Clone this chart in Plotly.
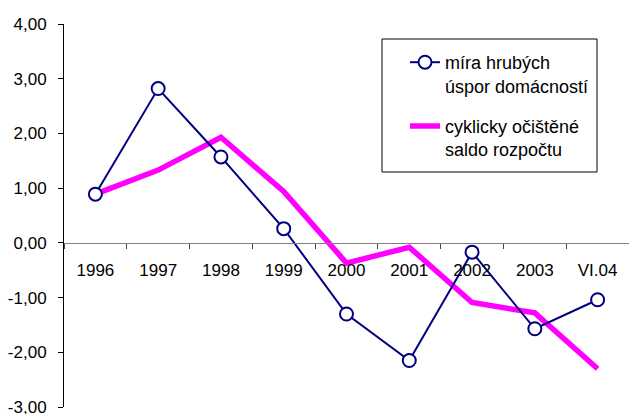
import plotly.graph_objects as go

categories = ["1996", "1997", "1998", "1999", "2000", "2001", "2002", "2003", "VI.04"]
savings_rate = [0.89, 2.82, 1.57, 0.26, -1.30, -2.15, -0.17, -1.57, -1.04]
cyclical_balance = [0.89, 1.33, 1.93, 0.94, -0.37, -0.08, -1.09, -1.28, -2.30]
y_tick_values = [-3, -2, -1, 0, 1, 2, 3, 4]
y_tick_labels = ["-3,00", "-2,00", "-1,00", "0,00", "1,00", "2,00", "3,00", "4,00"]
name_savings = "míra hrubých<br>úspor domácností"
name_balance = "cyklicky očištěné<br>saldo rozpočtu"

# plot area in pixels: x 64..629, y 24..407
PL, PR, PT, PB = 64, 629, 24, 407
def px(x):
    return (x - PL) / (PR - PL)
def py(y):
    return 1 - (y - PT) / (PB - PT)

fig = go.Figure()
fig.add_trace(go.Scatter(
    x=categories, y=cyclical_balance, mode="lines", name=name_balance,
    line=dict(color="#FF00FF", width=5.5), legendrank=2, legendgroup="b",
))
fig.add_trace(go.Scatter(
    x=categories, y=savings_rate, mode="lines+markers", name=name_savings,
    line=dict(color="#000080", width=2),
    marker=dict(symbol="circle", size=13, color="white",
                line=dict(color="#000080", width=2)),
    legendrank=1, legendgroup="a",
))

# legend frame
fig.add_shape(type="rect", xref="paper", yref="paper",
              x0=px(382), x1=px(597), y0=py(172), y1=py(39),
              line=dict(color="black", width=1), fillcolor="white", layer="below")

fig.update_layout(
    width=629, height=414,
    margin=dict(l=PL, r=629 - PR, t=PT, b=414 - PB),
    paper_bgcolor="white", plot_bgcolor="white",
    separators=", ",
    font=dict(family="Liberation Sans, Arial, sans-serif", size=17, color="black"),
    showlegend=True,
    legend=dict(
        x=px(405), y=py(44), xanchor="left", yanchor="top",
        bgcolor="rgba(0,0,0,0)", borderwidth=0, valign="top",
        font=dict(size=18), tracegroupgap=14,
    ),
    xaxis=dict(
        type="category", range=[-0.5, 8.5],
        anchor="free", position=3 / 7, automargin=False,
        showline=True, linecolor="#808080", linewidth=1,
        ticks="outside", tickson="boundaries", ticklen=5, tickcolor="#404040",
        showgrid=False, zeroline=False, ticklabelstandoff=12,
    ),
    yaxis=dict(
        range=[-3, 4], tickvals=y_tick_values, ticktext=y_tick_labels,
        automargin=False, ticklabeloverflow="allow",
        showline=True, linecolor="black", linewidth=1,
        ticks="outside", ticklen=5, tickcolor="black",
        showgrid=False, zeroline=False, ticklabelstandoff=8,
    ),
)

fig.write_html("out.html", config={"displayModeBar": False},
               post_script="document.body.style.margin='0';")
